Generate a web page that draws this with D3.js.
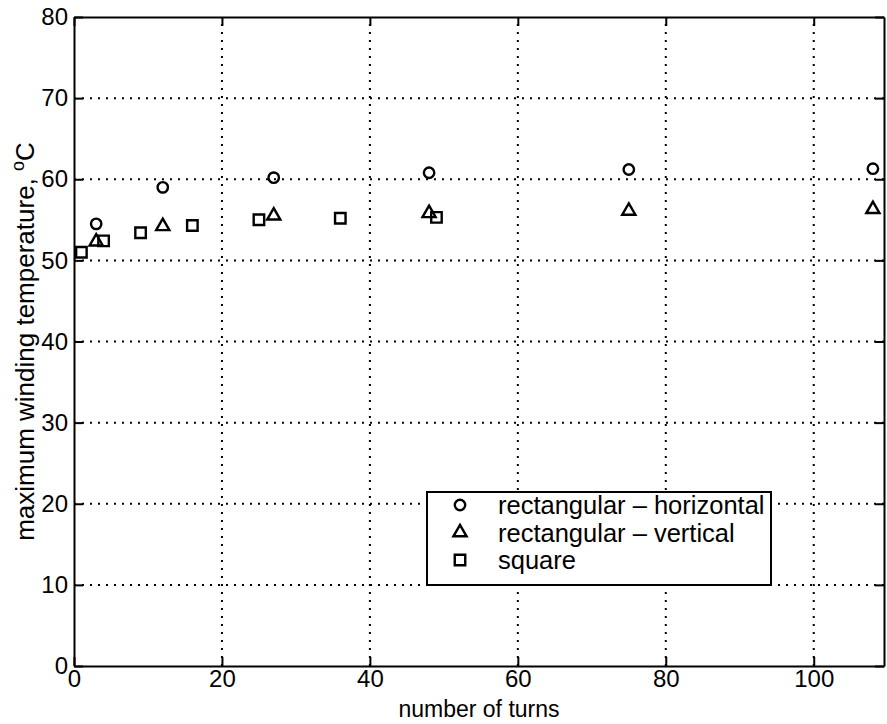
<!DOCTYPE html>
<html>
<head>
<meta charset="utf-8">
<script src="https://cdn.jsdelivr.net/npm/d3@7"></script>
<style>
  body { margin: 0; background: #fff; }
  text { font-family: "Liberation Sans", Arial, Helvetica, sans-serif; fill: #000; }
</style>
</head>
<body>
<svg id="chart"></svg>
<script>
var width = 887;
var height = 724;

var margin = {
  top: 17,
  left: 74,
  right: 3,
  bottom: 58
};

// series
var horizTurns = [3, 12, 27, 48, 75, 108];
var horizTemp = [54.5, 59.0, 60.2, 60.8, 61.2, 61.3];

var vertTurns = [3, 12, 27, 48, 75, 108];
var vertTemp = [52.3, 54.2, 55.5, 55.8, 56.1, 56.3];

var squareTurns = [1, 4, 9, 16, 25, 36, 49];
var squareTemp = [51.0, 52.4, 53.4, 54.3, 55.0, 55.2, 55.3];

var xTicks = [0, 20, 40, 60, 80, 100];
var yTicks = [0, 10, 20, 30, 40, 50, 60, 70, 80];

var legendLabels = ["rectangular \u2013 horizontal", "rectangular \u2013 vertical", "square"];

var svg = d3.select("#chart").attr("width", width).attr("height", height);

var xScale = d3.scaleLinear()
  .domain([0, 109.5])
  .range([margin.left, width - margin.right]);

var yScale = d3.scaleLinear()
  .domain([0, 80])
  .range([height - margin.bottom, margin.top]);

var x0 = margin.left, x1 = width - margin.right;
var y0 = height - margin.bottom, y1 = margin.top;

// dotted grid
var grid = svg.append("g")
  .attr("stroke", "#000")
  .attr("stroke-width", 2)
  .attr("stroke-dasharray", "2,6");

grid.selectAll(".vgrid")
  .data(xTicks.filter(function(d) { return d > 0; }))
  .enter().append("line")
  .attr("x1", function(d) { return xScale(d); })
  .attr("x2", function(d) { return xScale(d); })
  .attr("y1", y0)
  .attr("y2", y1);

grid.selectAll(".hgrid")
  .data(yTicks.filter(function(d) { return d > 0 && d < 80; }))
  .enter().append("line")
  .attr("x1", x0)
  .attr("x2", x1)
  .attr("y1", function(d) { return yScale(d); })
  .attr("y2", function(d) { return yScale(d); });

// axes, ticks pointing inward
var tickLen = 9;

var xAxis = svg.append("g")
  .attr("transform", `translate(0, ${y0})`)
  .call(d3.axisBottom(xScale).tickValues(xTicks).tickSizeInner(-tickLen).tickSizeOuter(0).tickPadding(4));

var xTop = svg.append("g")
  .attr("transform", `translate(0, ${y1})`)
  .call(d3.axisTop(xScale).tickValues(xTicks).tickSizeInner(-tickLen).tickSizeOuter(0).tickFormat(""));

var yAxis = svg.append("g")
  .attr("transform", `translate(${x0}, 0)`)
  .call(d3.axisLeft(yScale).tickValues(yTicks).tickSizeInner(-tickLen).tickSizeOuter(0).tickPadding(6));

var yRight = svg.append("g")
  .attr("transform", `translate(${x1}, 0)`)
  .call(d3.axisRight(yScale).tickValues(yTicks).tickSizeInner(-tickLen).tickSizeOuter(0).tickFormat(""));

svg.selectAll(".domain").attr("stroke", "#000").attr("stroke-width", 2);
svg.selectAll(".tick line").attr("stroke", "#000").attr("stroke-width", 2);
svg.selectAll(".tick text").attr("font-size", 24).attr("fill", "#000")
  .style("font-family", "'Liberation Sans', Arial, sans-serif");

xAxis.selectAll(".tick text").attr("dy", "0.72em");

// axis titles
svg.append("text")
  .attr("x", (x0 + x1) / 2)
  .attr("y", height - 7)
  .attr("text-anchor", "middle")
  .attr("font-size", 23)
  .text("number of turns");

var ylab = svg.append("text")
  .attr("transform", `translate(34, ${(y0 + y1) / 2}) rotate(-90)`)
  .attr("text-anchor", "middle")
  .attr("font-size", 26);
ylab.append("tspan").text("maximum winding temperature, ");
ylab.append("tspan").attr("font-size", 18).attr("dy", -10).text("o");
ylab.append("tspan").attr("dy", 10).text("C");

// markers
var sym = {
  circle: d3.symbol().type(d3.symbolCircle).size(85),
  triangle: d3.symbol().type(d3.symbolTriangle).size(75),
  square: d3.symbol().type(d3.symbolSquare).size(110)
};

function drawSeries(xs, ys, shape) {
  svg.append("g").selectAll("path")
    .data(xs.map(function(d, i) { return {x: d, y: ys[i]}; }))
    .enter().append("path")
    .attr("d", sym[shape])
    .attr("transform", function(d) { return `translate(${xScale(d.x)}, ${yScale(d.y)})`; })
    .attr("fill", "none")
    .attr("stroke", "#000")
    .attr("stroke-width", 2.4);
}

drawSeries(horizTurns, horizTemp, "circle");
drawSeries(vertTurns, vertTemp, "triangle");
drawSeries(squareTurns, squareTemp, "square");

// legend
var legend = svg.append("g");
legend.append("rect")
  .attr("x", 427)
  .attr("y", 492)
  .attr("width", 344)
  .attr("height", 93)
  .attr("fill", "#fff")
  .attr("stroke", "#000")
  .attr("stroke-width", 2);

var shapes = ["circle", "triangle", "square"];
var rows = legend.selectAll(".row")
  .data(legendLabels)
  .enter().append("g")
  .attr("transform", function(d, i) { return `translate(460, ${505 + i * 27.5})`; });

rows.append("path")
  .attr("d", function(d, i) { return sym[shapes[i]](); })
  .attr("fill", "none")
  .attr("stroke", "#000")
  .attr("stroke-width", 2.4);

rows.append("text")
  .attr("x", 38)
  .attr("dy", "0.36em")
  .attr("font-size", 25.5)
  .text(function(d) { return d; });
</script>
</body>
</html>
